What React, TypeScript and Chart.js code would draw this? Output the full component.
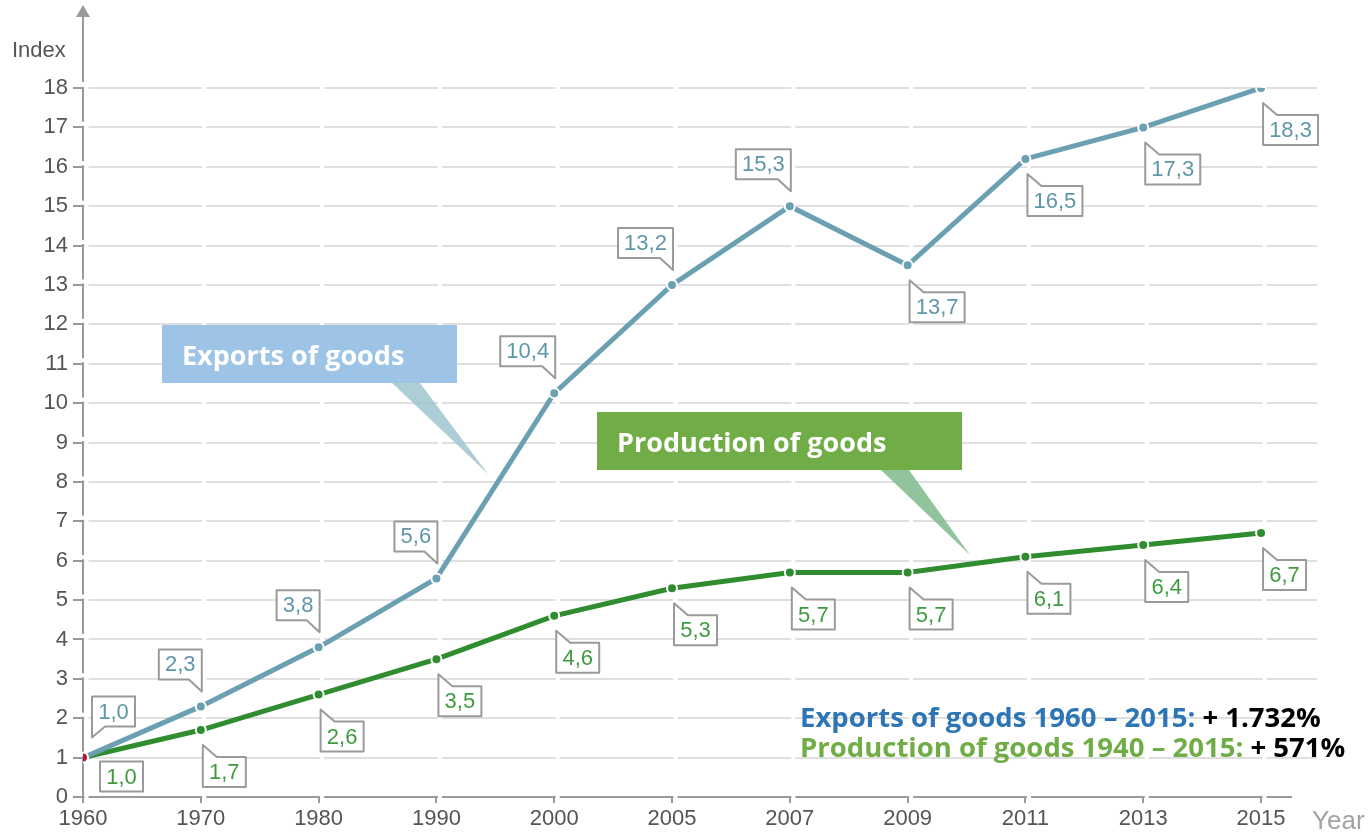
import { useEffect, useRef } from "react";
import { Chart, registerables } from "chart.js";

Chart.register(...registerables);

// ---------- data ----------
const years = ["1960", "1970", "1980", "1990", "2000", "2005", "2007", "2009", "2011", "2013", "2015"];
// plotted positions as drawn in the picture
const exportsValues = [1.0, 2.3, 3.8, 5.55, 10.25, 13.0, 15.0, 13.5, 16.2, 17.0, 18.0];
const productionValues = [1.0, 1.7, 2.6, 3.5, 4.6, 5.3, 5.7, 5.7, 6.1, 6.4, 6.7];
// printed callout texts
const exportsLabels = ["1,0", "2,3", "3,8", "5,6", "10,4", "13,2", "15,3", "13,7", "16,5", "17,3", "18,3"];
const productionLabels = ["1,0", "1,7", "2,6", "3,5", "4,6", "5,3", "5,7", "5,7", "6,1", "6,4", "6,7"];
const yMin = 0;
const yMax = 18;

// ---------- styles ----------
const EXPORT_COLOR = "#6aa0b2";
const EXPORT_TEXT = "#5f97a9";
const PROD_COLOR = "#2f8c2f";
const PROD_TEXT = "#3f9b3f";
const START_COLOR = "#b3143c";
const AXIS_COLOR = "#9a9a9a";
const GRID_COLOR = "#dfdfdf";
const TICK_FONT = "'Liberation Sans', Arial, sans-serif";
const ANNOT_FONT = "'Open Sans', Lato, sans-serif";

const exportsPlacement = ["aboveLeft", "above", "above", "above", "above", "above", "above", "below", "below", "below", "below"];
const productionPlacement = ["plain", "below", "below", "below", "below", "below", "below", "below", "below", "below", "below"];

function drawCallout(ctx: CanvasRenderingContext2D, text: string, color: string, px: number, py: number, mode: string) {
  ctx.save();
  ctx.font = `22px ${TICK_FONT}`;
  const w = Math.round(ctx.measureText(text).width + 12);
  const h = 30;
  let left = 0, top = 0;
  ctx.beginPath();
  if (mode === "above") {
    const right = px + 1;
    const bottom = py - 27;
    left = right - w;
    top = bottom - h;
    ctx.moveTo(left, top);
    ctx.lineTo(right, top);
    ctx.lineTo(right, py - 15);
    ctx.lineTo(right - 13, bottom);
    ctx.lineTo(left, bottom);
    ctx.closePath();
  } else if (mode === "aboveLeft") {
    left = px + 9;
    const bottom = py - 31;
    top = bottom - h;
    const right = left + w;
    ctx.moveTo(left, top);
    ctx.lineTo(right, top);
    ctx.lineTo(right, bottom);
    ctx.lineTo(left + 13, bottom);
    ctx.lineTo(left, py - 20);
    ctx.closePath();
  } else if (mode === "below") {
    left = px + 2;
    top = py + 27;
    const right = left + w;
    const bottom = top + h;
    ctx.moveTo(left, py + 15);
    ctx.lineTo(left + 14, top);
    ctx.lineTo(right, top);
    ctx.lineTo(right, bottom);
    ctx.lineTo(left, bottom);
    ctx.closePath();
  } else {
    left = px + 17;
    top = py + 4;
    ctx.rect(left, top, w, h);
  }
  ctx.fillStyle = "#fff";
  ctx.fill();
  ctx.lineJoin = "round";
  ctx.lineWidth = 2;
  ctx.strokeStyle = AXIS_COLOR;
  ctx.stroke();
  ctx.fillStyle = color;
  ctx.textAlign = "center";
  ctx.textBaseline = "middle";
  ctx.fillText(text, left + w / 2, top + h / 2 + 1);
  ctx.restore();
}

const gapPlugin = {
  id: "gaps",
  beforeDatasetsDraw(chart: any) {
    const { ctx, chartArea, scales } = chart;
    const xs = scales.x;
    const ys = scales.y;
    ctx.save();
    ctx.fillStyle = "#fff";
    // gaps in gridlines and x axis after each category tick
    years.forEach((_, i) => {
      const px = xs.getPixelForValue(i);
      ctx.fillRect(px + 1.5, chartArea.top - 2, 4, chartArea.bottom - chartArea.top + 3.5);
    });
    // shorten x axis line at the right end
    ctx.fillRect(1292, chartArea.bottom - 3, chartArea.right - 1292 + 4, 5);
    // gaps in y axis line above each tick
    for (let v = yMin; v <= yMax; v++) {
      const py = ys.getPixelForValue(v);
      if (v === yMin) continue;
      ctx.fillRect(chartArea.left - 2, py - 5.5, 4, 4);
    }
    ctx.restore();
  },
};

const overlayPlugin = {
  id: "overlay",
  afterDatasetsDraw(chart: any) {
    const { ctx, chartArea } = chart;
    ctx.save();

    // y-axis extension with arrow
    ctx.strokeStyle = AXIS_COLOR;
    ctx.fillStyle = AXIS_COLOR;
    ctx.lineWidth = 2;
    ctx.beginPath();
    ctx.moveTo(chartArea.left, chartArea.top - 6);
    ctx.lineTo(chartArea.left, 14);
    ctx.stroke();
    ctx.beginPath();
    ctx.moveTo(chartArea.left - 7, 17);
    ctx.lineTo(chartArea.left + 7, 17);
    ctx.lineTo(chartArea.left, 5);
    ctx.closePath();
    ctx.fill();

    // axis titles
    ctx.font = `22px ${TICK_FONT}`;
    ctx.fillStyle = "#555";
    ctx.textBaseline = "alphabetic";
    ctx.textAlign = "left";
    ctx.fillText("Index", 12, 57);
    ctx.font = `26px ${TICK_FONT}`;
    ctx.fillStyle = "#a3a3a3";
    ctx.fillText("Year", 1312, 829);

    // annotation tails
    ctx.fillStyle = "rgba(160,197,207,0.85)";
    ctx.beginPath();
    ctx.moveTo(392, 383);
    ctx.lineTo(420, 383);
    ctx.lineTo(488, 474);
    ctx.closePath();
    ctx.fill();
    ctx.fillStyle = "rgba(133,190,145,0.9)";
    ctx.beginPath();
    ctx.moveTo(881, 470);
    ctx.lineTo(909, 470);
    ctx.lineTo(970, 555);
    ctx.closePath();
    ctx.fill();

    // annotation boxes
    ctx.fillStyle = "#9dc3e6";
    ctx.fillRect(162, 325, 295, 58);
    ctx.fillStyle = "#70ad47";
    ctx.fillRect(597, 412, 365, 58);
    ctx.fillStyle = "#fff";
    ctx.font = `bold 27px ${ANNOT_FONT}`;
    ctx.fillText("Exports of goods", 182, 365);
    ctx.fillText("Production of goods", 617, 452);

    // data callouts
    const mE = chart.getDatasetMeta(0);
    const mP = chart.getDatasetMeta(1);
    mE.data.forEach((pt: any, i: number) => drawCallout(ctx, exportsLabels[i], EXPORT_TEXT, pt.x, pt.y, exportsPlacement[i]));
    mP.data.forEach((pt: any, i: number) => drawCallout(ctx, productionLabels[i], PROD_TEXT, pt.x, pt.y, productionPlacement[i]));

    // growth notes
    ctx.textAlign = "left";
    ctx.textBaseline = "alphabetic";
    ctx.font = `bold 27.5px ${ANNOT_FONT}`;
    const l1a = "Exports of goods 1960 \u2013 2015: ";
    const l2a = "Production of goods 1940 \u2013 2015: ";
    ctx.fillStyle = "#2e75b6";
    ctx.fillText(l1a, 800, 727);
    ctx.fillStyle = "#000";
    ctx.fillText("+ 1.732%", 800 + ctx.measureText(l1a).width, 727);
    ctx.fillStyle = "#70ad47";
    ctx.fillText(l2a, 800, 757);
    ctx.fillStyle = "#000";
    ctx.fillText("+ 571%", 800 + ctx.measureText(l2a).width, 757);

    ctx.restore();
  },
};

export default function App() {
  const ref = useRef<HTMLCanvasElement>(null);
  useEffect(() => {
    const canvas = ref.current;
    if (!canvas) return;
    const chart = new Chart(canvas, {
      type: "line",
      data: {
        datasets: [
          {
            label: "Exports of goods",
            data: exportsValues.map((v, i) => ({ x: i, y: v })),
            borderColor: EXPORT_COLOR,
            borderWidth: 5,
            pointRadius: 5,
            pointBorderWidth: 2,
            pointBorderColor: "#fff",
            pointBackgroundColor: exportsValues.map((_, i) => (i === 0 ? START_COLOR : EXPORT_COLOR)),
            tension: 0,
          },
          {
            label: "Production of goods",
            data: productionValues.map((v, i) => ({ x: i, y: v })),
            borderColor: PROD_COLOR,
            borderWidth: 5,
            pointRadius: 5,
            pointBorderWidth: 2,
            pointBorderColor: "#fff",
            pointBackgroundColor: productionValues.map((_, i) => (i === 0 ? START_COLOR : PROD_COLOR)),
            tension: 0,
          },
        ],
      },
      options: {
        responsive: false,
        animation: false,
        layout: { padding: { top: 88, right: 53, left: 0, bottom: 0 } },
        plugins: { legend: { display: false }, tooltip: { enabled: false }, title: { display: false } },
        scales: {
          x: {
            type: "linear",
            min: 0,
            max: 10.475,
            afterBuildTicks: (scale: any) => {
              scale.ticks = years.map((_, i) => ({ value: i }));
            },
            afterFit: (scale: any) => {
              scale.height = 38;
            },
            ticks: {
              autoSkip: false,
              maxRotation: 0,
              padding: 3,
              color: "#555",
              font: { family: TICK_FONT, size: 22 },
              callback: (value: any) => years[value as number] ?? "",
            },
            grid: { drawOnChartArea: false, drawTicks: true, tickLength: 6, tickColor: AXIS_COLOR, lineWidth: 2 },
            border: { display: true, color: AXIS_COLOR, width: 2 },
          },
          y: {
            min: yMin,
            max: yMax,
            afterFit: (scale: any) => {
              scale.width = 83;
            },
            ticks: {
              stepSize: 1,
              padding: 5,
              color: "#555",
              font: { family: TICK_FONT, size: 22 },
            },
            grid: { color: GRID_COLOR, lineWidth: 2, tickColor: AXIS_COLOR, tickLength: 10, drawTicks: true },
            border: { display: true, color: AXIS_COLOR, width: 2 },
          },
        },
      },
      plugins: [gapPlugin, overlayPlugin],
    } as any);
    return () => chart.destroy();
  }, []);
  return (
    <div style={{ position: "fixed", left: 0, top: 0, width: 1370, height: 835, background: "#fff" }}>
      <canvas ref={ref} width={1370} height={835} style={{ display: "block" }} />
    </div>
  );
}
